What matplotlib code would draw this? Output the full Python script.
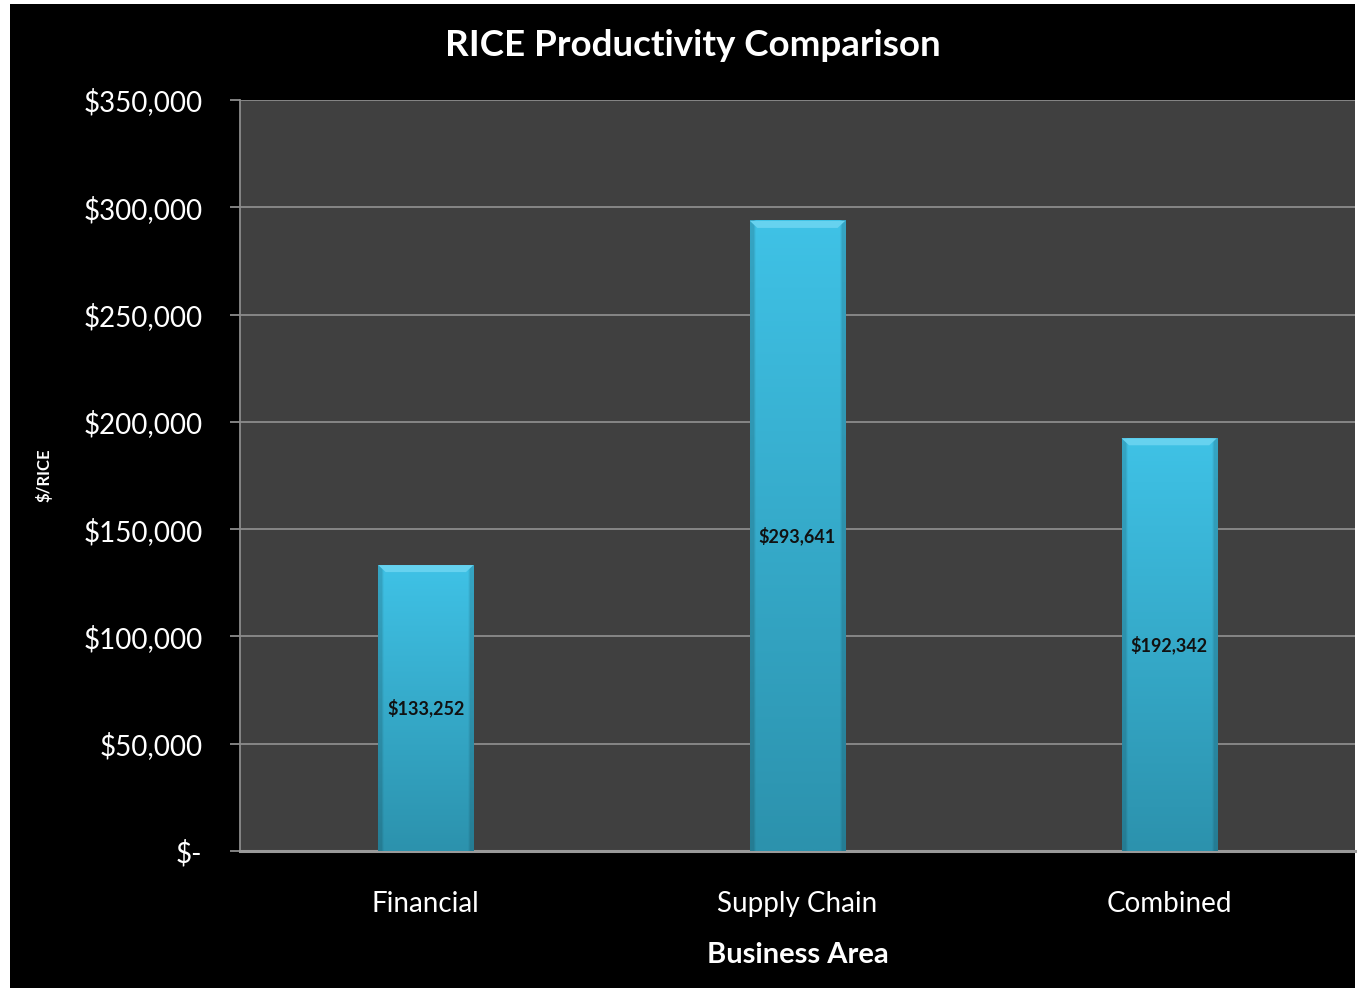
import numpy as np
import matplotlib
matplotlib.use('Agg')
import matplotlib.pyplot as plt
from matplotlib.patches import Rectangle, Polygon
from matplotlib.ticker import FuncFormatter

areas = ['Financial', 'Supply Chain', 'Combined']
values = [133252, 293641, 192342]
yticks = [0, 50000, 100000, 150000, 200000, 250000, 300000, 350000]

plt.rcParams['font.family'] = ['Lato', 'DejaVu Sans']

fig = plt.figure(figsize=(13.63, 9.93), dpi=100, facecolor='white')
# black chart area inside a thin white margin
fig.patches.append(Rectangle((10/1363, 5/993), 1345/1363, 984/993,
                             transform=fig.transFigure, facecolor='black',
                             edgecolor='none', zorder=-10))

ax = fig.add_axes([240/1363, 142/993, 1115/1363, 751/993])
ax.set_facecolor('#404040')
ax.set_xlim(-0.5, 2.5)
ax.set_ylim(0, 350000)

w = 0.256
top_c = np.array([0x3f, 0xc2, 0xe6]) / 255
bot_c = np.array([0x2c, 0x92, 0xad]) / 255
bev = 350000 * 7 / 751
for i, v in enumerate(values):
    x0, x1 = i - w/2, i + w/2
    t = np.linspace(0, 1, 200)[:, None]
    grad = bot_c[None, :] * (1 - t) + top_c[None, :] * t
    img = np.repeat(grad[:, None, :], 40, axis=1)
    # darker side edges
    shade = np.ones(40)
    shade[:2] = 0.85
    shade[-2:] = 0.85
    img = img * shade[None, :, None]
    ax.imshow(img, extent=(x0, x1, 0, v), origin='lower', aspect='auto',
              zorder=3, interpolation='bilinear')
    # bevelled top edge
    dx = 0.02
    ax.add_patch(Polygon([(x0, v), (x1, v), (x1 - dx, v - bev), (x0 + dx, v - bev)],
                         closed=True, facecolor='#66d2ef', edgecolor='none', zorder=4))
    ax.text(i, v / 2, '${:,.0f}'.format(v), ha='center', va='center',
            fontsize=13, fontweight='bold', color='#111111', zorder=5)

ax.set_yticks(yticks)
ax.yaxis.set_major_formatter(FuncFormatter(lambda y, p: '$-' if y == 0 else '${:,.0f}'.format(y)))
ax.grid(axis='y', color='#8c8c8c', linewidth=1.3, zorder=1)
ax.set_axisbelow(True)
ax.set_xticks(range(len(areas)))
ax.set_xticklabels(areas)

for s in ['top', 'right']:
    ax.spines[s].set_visible(False)
ax.spines['left'].set_color('#8c8c8c')
ax.spines['left'].set_linewidth(1.3)
ax.spines['bottom'].set_color('#9a9a9a')
ax.spines['bottom'].set_linewidth(2.2)

ax.tick_params(axis='y', colors='#8c8c8c', length=7, width=1.3, pad=20,
               labelsize=20, labelcolor='white')
ax.tick_params(axis='x', length=0, pad=29, labelsize=20, labelcolor='white')

ax.set_xlabel('Business Area', fontsize=21, fontweight='bold', color='white', labelpad=18)
ax.set_ylabel('$/RICE', fontsize=12, fontweight='bold', color='white', labelpad=0)
ax.yaxis.set_label_coords(-0.168, 0.5)
fig.text(693/1363, 1 - 45/993, 'RICE Productivity Comparison', ha='center', va='center',
         fontsize=26.5, fontweight='bold', color='white')

fig.savefig('out.png', dpi=100, facecolor=fig.get_facecolor())
